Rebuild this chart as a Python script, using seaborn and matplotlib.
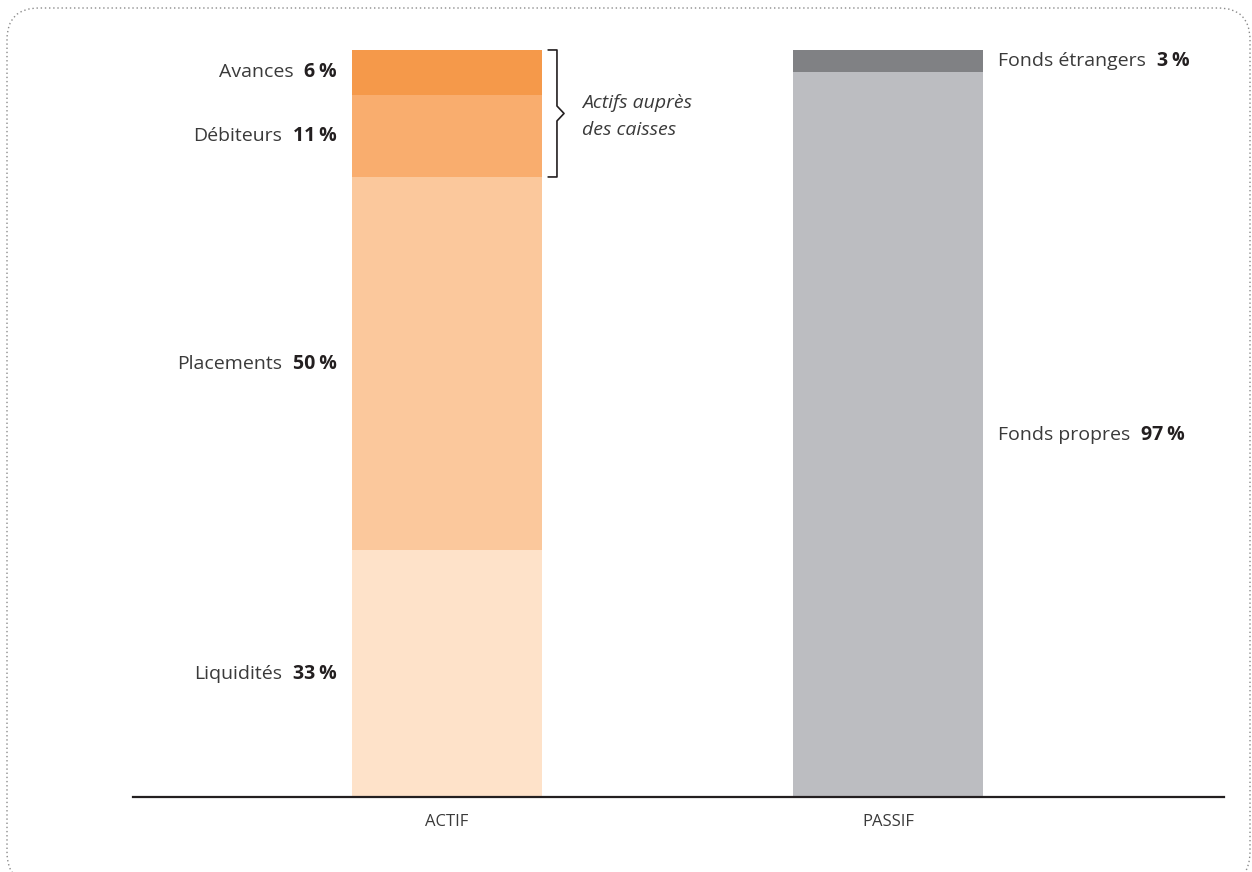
import matplotlib
matplotlib.use("Agg")
import matplotlib.pyplot as plt
import seaborn as sns
import numpy as np
import pandas as pd
from matplotlib.patches import FancyBboxPatch
from matplotlib.transforms import IdentityTransform

# ---- data ----
categories = ["ACTIF", "PASSIF"]
actif_labels = ["Liquidités", "Placements", "Débiteurs", "Avances"]
actif_values = [33, 50, 11, 6]
actif_colors = ["#FEE2C9", "#FBC89C", "#F9AD6E", "#F5994A"]
passif_labels = ["Fonds propres", "Fonds étrangers"]
passif_values = [97, 3]
passif_colors = ["#BCBDC1", "#808184"]
bracket_text = "Actifs auprès\ndes caisses"

sns.set_theme(style="white")
FONT = ['Open Sans', 'DejaVu Sans']
plt.rcParams['font.family'] = FONT

fig = plt.figure(figsize=(12.52, 8.72), dpi=100)
ax = fig.add_axes([0.1062, 0.086, 0.9776 - 0.1062, 0.9427 - 0.086])

W = 0.431

def stacked(cat, values, colors):
    cum = np.cumsum(values)
    for v, c in zip(cum[::-1], colors[::-1]):
        df = pd.DataFrame({"cat": [cat], "val": [v]})
        sns.barplot(data=df, x="cat", y="val", order=categories, color=c,
                    width=W, saturation=1, ax=ax, linewidth=0)
    return cum

cum_a = stacked("ACTIF", actif_values, actif_colors)
cum_p = stacked("PASSIF", passif_values, passif_colors)

ax.set_xlim(-0.712, 1.762)
ax.set_ylim(0, 100)
for s in ["top", "right", "left"]:
    ax.spines[s].set_visible(False)
ax.spines["bottom"].set_color("#231F20")
ax.spines["bottom"].set_linewidth(1.6)
ax.set_yticks([])
ax.set_xlabel("")
ax.set_ylabel("")
ax.tick_params(axis="x", length=0, pad=12, labelsize=12, labelcolor="#3A3A3A")

FS = 14
TXT = "#3A3A3A"
BOLD = "#231F20"
GAP = 11
fig.canvas.draw()
renderer = fig.canvas.get_renderer()

def pct(v):
    return f"{v}\u2009%"

# ACTIF labels (left of bar)
lower = np.concatenate([[0], cum_a[:-1]])
for lab, v, lo, hi in zip(actif_labels, actif_values, lower, cum_a):
    ymid = (lo + hi) / 2
    tb = ax.annotate(pct(v), xy=(0 - W / 2, ymid), xytext=(-15, 0),
                     textcoords="offset pixels", ha="right", va="center",
                     fontsize=FS, fontweight="bold", color=BOLD)
    wb = tb.get_window_extent(renderer).width
    ax.annotate(lab, xy=(0 - W / 2, ymid), xytext=(-15 - wb - GAP, 0),
                textcoords="offset pixels", ha="right", va="center",
                fontsize=FS, color=TXT)

# PASSIF labels (right of bar)
lower = np.concatenate([[0], cum_p[:-1]])
for lab, v, lo, hi in zip(passif_labels, passif_values, lower, cum_p):
    ymid = (lo + hi) / 2
    t = ax.annotate(lab, xy=(1 + W / 2, ymid), xytext=(15, 0),
                    textcoords="offset pixels", ha="left", va="center",
                    fontsize=FS, color=TXT)
    wl = t.get_window_extent(renderer).width
    ax.annotate(pct(v), xy=(1 + W / 2, ymid), xytext=(15 + wl + GAP, 0),
                textcoords="offset pixels", ha="left", va="center",
                fontsize=FS, fontweight="bold", color=BOLD)

# Bracket around Avances + Débiteurs
y_lo = cum_a[1]
y_hi = cum_a[3]
y_mid = (y_lo + y_hi) / 2
xb = W / 2 + 0.014
xh = 0.02
ax.plot([xb, xb + xh, xb + xh, xb + 1.8 * xh, xb + xh, xb + xh, xb],
        [y_hi, y_hi, y_mid + 1.0, y_mid, y_mid - 1.0, y_lo, y_lo],
        color="#231F20", lw=1.2, clip_on=False)
ax.text(xb + 1.8 * xh + 0.04, y_mid - 0.4, bracket_text, ha="left", va="center",
        fontsize=FS, style="italic", color=TXT, linespacing=1.65)

# dotted rounded frame (pixel coordinates)
frame = FancyBboxPatch((7, -12), 1243, 872 - 8 + 12,
                       boxstyle="round,pad=0,rounding_size=32",
                       transform=IdentityTransform(), fill=False,
                       edgecolor="#8A8A8A", linestyle=(0, (1, 2)), lw=1.0)
fig.patches.append(frame)

fig.savefig("out.png", dpi=100)
